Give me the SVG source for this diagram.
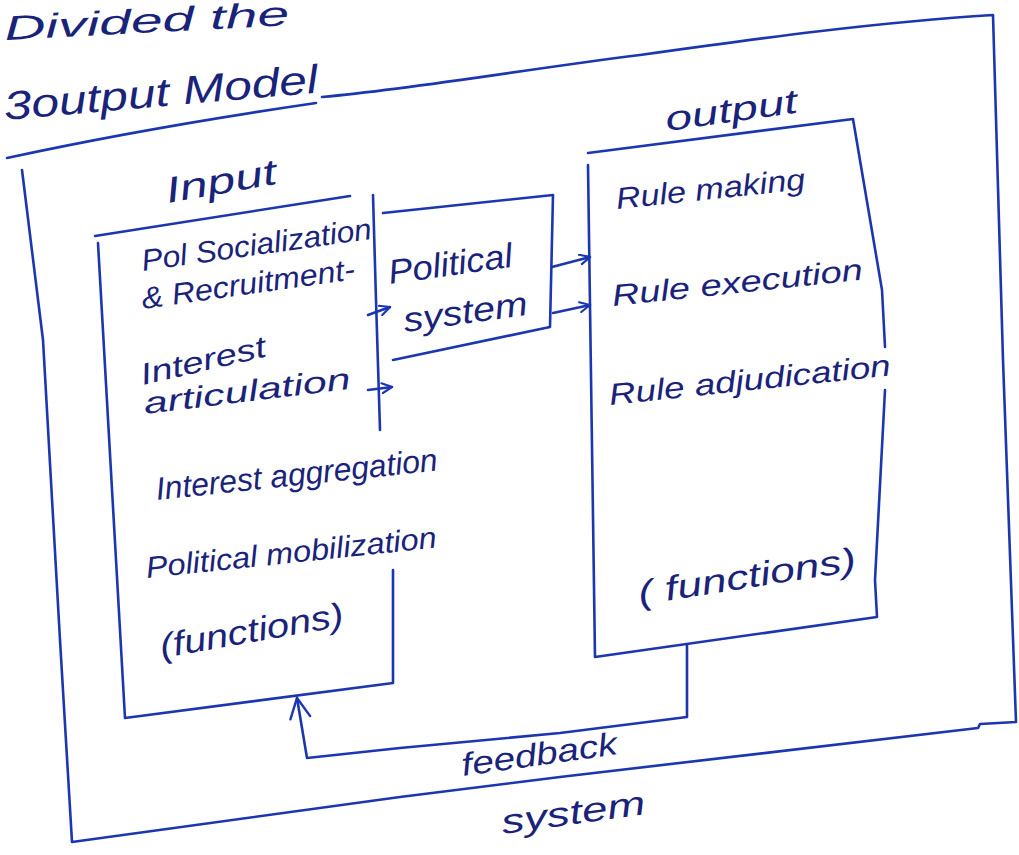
<svg xmlns="http://www.w3.org/2000/svg" width="1019" height="855" viewBox="0 0 1019 855">
<defs>
<style>
.ln{fill:none;stroke:#1c36b0;stroke-width:2.6;stroke-linejoin:round;stroke-linecap:round}
.tx{font-family:"Liberation Sans","DejaVu Sans",sans-serif;font-style:italic;fill:#1a237a}
</style>
<marker id="ah" viewBox="0 0 12 12" refX="11" refY="6" markerWidth="12" markerHeight="12" markerUnits="userSpaceOnUse" orient="auto">
<path d="M1,1 L11,6 L1,11" fill="none" stroke="#1c36b0" stroke-width="2.2" stroke-linecap="round"/>
</marker>
<marker id="ahb" viewBox="0 0 24 24" refX="22" refY="12" markerWidth="24" markerHeight="24" markerUnits="userSpaceOnUse" orient="auto">
<path d="M2,2 L22,12 L2,22" fill="none" stroke="#1c36b0" stroke-width="2.4" stroke-linecap="round"/>
</marker>
</defs>
<rect width="1019" height="855" fill="#ffffff"/>

<g id="header">
<text class="tx" x="5" y="40" font-size="34" textLength="285" lengthAdjust="spacingAndGlyphs" transform="rotate(-3 5 40)">Divided the</text>
<text class="tx" x="5" y="120" font-size="40" textLength="315" lengthAdjust="spacingAndGlyphs" transform="rotate(-5 5 120)">3output Model</text>
</g>

<g id="frame">
<path class="ln" d="M7,158 C90,140 200,120 316,103"/>
<path class="ln" d="M322,97 C420,88 520,70 640,55 C760,38 880,22 993,15 L1003,360 L1016,722 L980,724 L978,728 L560,777 L400,797 L72,842 L60,640 L43,340 L22,170"/>
</g>

<g id="input">
<text class="tx" x="168" y="203" font-size="36" textLength="112" lengthAdjust="spacingAndGlyphs" transform="rotate(-10 168 203)">Input</text>
<path class="ln" d="M95,236 L350,196"/>
<path class="ln" d="M98,243 L125,718 L393,683 L393,570"/>
<path class="ln" d="M373,195 L376,300 L380,430"/>
<text class="tx" x="143" y="271" font-size="30" textLength="232" lengthAdjust="spacingAndGlyphs" transform="rotate(-8 143 271)">Pol Socialization</text>
<text class="tx" x="143" y="309" font-size="30" textLength="215" lengthAdjust="spacingAndGlyphs" transform="rotate(-8 143 309)">&amp; Recruitment-</text>
<text class="tx" x="143" y="385" font-size="30" textLength="128" lengthAdjust="spacingAndGlyphs" transform="rotate(-13 143 385)">Interest</text>
<text class="tx" x="145" y="414" font-size="30" textLength="208" lengthAdjust="spacingAndGlyphs" transform="rotate(-7 145 414)">articulation</text>
<text class="tx" x="157" y="500" font-size="32" textLength="283" lengthAdjust="spacingAndGlyphs" transform="rotate(-6 157 500)">Interest aggregation</text>
<text class="tx" x="147" y="578" font-size="30" textLength="292" lengthAdjust="spacingAndGlyphs" transform="rotate(-6 147 578)">Political mobilization</text>
<text class="tx" x="162" y="658" font-size="34" textLength="186" lengthAdjust="spacingAndGlyphs" transform="rotate(-10 162 658)">(functions)</text>
</g>

<g id="political-system">
<path class="ln" d="M383,213 L553,195 L550,327 L393,360"/>
<text class="tx" x="390" y="284" font-size="34" textLength="125" lengthAdjust="spacingAndGlyphs" transform="rotate(-8 390 284)">Political</text>
<text class="tx" x="405" y="332" font-size="34" textLength="125" lengthAdjust="spacingAndGlyphs" transform="rotate(-8 405 332)">system</text>
</g>

<g id="output">
<text class="tx" x="667" y="131" font-size="34" textLength="133" lengthAdjust="spacingAndGlyphs" transform="rotate(-8 667 131)">output</text>
<path class="ln" d="M588,153 L853,119 L882,290 L885,347"/>
<path class="ln" d="M885,390 L875,580 L877,617 L595,657 L588,165"/>
<text class="tx" x="617" y="209" font-size="30" textLength="190" lengthAdjust="spacingAndGlyphs" transform="rotate(-6 617 209)">Rule making</text>
<text class="tx" x="613" y="306" font-size="30" textLength="252" lengthAdjust="spacingAndGlyphs" transform="rotate(-6 613 306)">Rule execution</text>
<text class="tx" x="610" y="405" font-size="30" textLength="283" lengthAdjust="spacingAndGlyphs" transform="rotate(-6 610 405)">Rule adjudication</text>
<text class="tx" x="640" y="605" font-size="34" textLength="220" lengthAdjust="spacingAndGlyphs" transform="rotate(-9 640 605)">( functions)</text>
</g>

<g id="connectors">
<path class="ln" d="M368,315 L390,307" marker-end="url(#ah)"/>
<path class="ln" d="M368,390 L392,387" marker-end="url(#ah)"/>
<path class="ln" d="M552,267 L590,257" marker-end="url(#ah)"/>
<path class="ln" d="M553,313 L590,305" marker-end="url(#ah)"/>
<path class="ln" d="M687,645 L687,717 L560,733 L400,748 L307,758 L297,698" marker-end="url(#ahb)"/>
</g>

<g id="feedback-label">
<text class="tx" x="463" y="776" font-size="32" textLength="157" lengthAdjust="spacingAndGlyphs" transform="rotate(-8 463 776)">feedback</text>
<text class="tx" x="503" y="834" font-size="34" textLength="145" lengthAdjust="spacingAndGlyphs" transform="rotate(-8 503 834)">system</text>
</g>
</svg>
